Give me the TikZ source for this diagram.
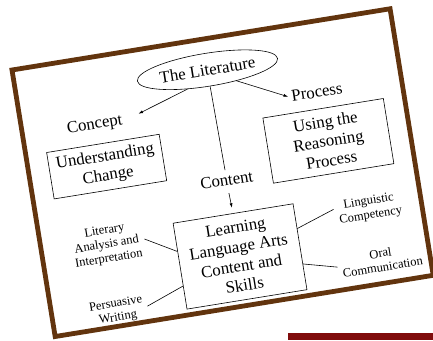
\documentclass[tikz,border=0pt]{standalone}
\usepackage{fontspec}
\setmainfont{Liberation Serif}
\usetikzlibrary{calc,shapes.geometric,arrows.meta}
\definecolor{framebrown}{RGB}{98,52,14}
\definecolor{bardark}{RGB}{128,12,12}

\begin{document}
\begin{tikzpicture}[x=1pt,y=-1pt,
        bigtext/.style={font=\fontsize{16.8}{19.5}\selectfont, align=center},
        smalltext/.style={font=\fontsize{12.5}{14.2}\selectfont, align=center, inner sep=4pt},
        topicbox/.style={draw, line width=0.6pt, bigtext, inner sep=0pt},
        link/.style={line width=0.6pt},
        arrowlink/.style={link, -{Latex[length=4.5pt,width=3pt]}}]
            \def\tilt{9.2} % Define the tilt of the card

            % Fix the page size
            \useasboundingbox (0,0) rectangle (433,340);

            % Draw the dark red bar at the bottom right
            \fill[bardark] (288,333) rectangle (433,340);

            \begin{scope}[shift={(12,70)}, rotate=\tilt, transform shape]
            % Draw the brown frame of the card
            \draw[framebrown, line width=4.8pt] (0,0) rectangle (383,270);

            % Draw the nodes
            \node[bigtext, draw, line width=0.6pt, ellipse, minimum width=142pt, minimum height=33pt, inner sep=0pt] (lit) at (193,31) {The Literature};
            \node[bigtext] (concept) at (73,67.6) {Concept};
            \node[bigtext] (process) at (297.5,70.5) {Process};
            \node[topicbox, minimum width=114pt, minimum height=47pt] (change) at (78,110.5) {Understanding\\Change};
            \node[topicbox, minimum width=122pt, minimum height=66pt] (reason) at (301,120.5) {Using the\\Reasoning\\Process};
            \node[bigtext] (content) at (194.3,143) {Content};
            \node[topicbox, minimum width=121.5pt, minimum height=87pt] (learn) at (195.3,220.5) {Learning\\Language Arts\\Content and\\Skills};
            \node[smalltext] (literary) at (65.5,188) {Literary\\Analysis and\\Interpretation};
            \node[smalltext] (persuade) at (65,254.8) {Persuasive\\Writing};
            \node[smalltext] (ling) at (331,194) {Linguistic\\Competency};
            \node[smalltext] (oral) at (334.5,246.7) {Oral\\Communication};

            % Draw the arrows out of the literature
            \draw[arrowlink, shorten >=14pt] (lit.215) -- (concept.east); % Concept
            \draw[arrowlink] (lit.330) -- (process.west); % Process
            \draw[link, shorten >=1pt] (lit.south) -- (content.north); % Content
            \draw[arrowlink, shorten <=4pt, shorten >=5.5pt] (content.south) -- (learn.north);

            % Draw the lines round the learning box
            \draw[link] (literary.east) -- ($(learn.north west)!0.33!(learn.south west)$);
            \draw[link] (persuade.east) -- ($(learn.north west)!0.73!(learn.south west)$);
            \draw[link] ($(learn.north east)!0.29!(learn.south east)$) -- (ling.172);
            \draw[link] ($(learn.north east)!0.70!(learn.south east)$) -- (oral.west);
            \end{scope}

        \end{tikzpicture}
\end{document}
